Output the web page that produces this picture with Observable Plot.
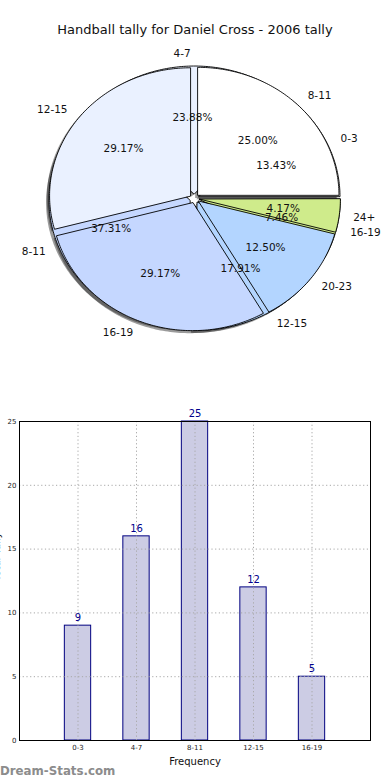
<!DOCTYPE html>
<html><head><meta charset="utf-8">
<script src="https://cdn.jsdelivr.net/npm/d3@7"></script>
<script src="https://cdn.jsdelivr.net/npm/@observablehq/plot@0.6"></script>
<style>
html,body{margin:0;padding:0;background:#fff;}
body{width:390px;height:780px;position:relative;overflow:hidden;font-family:"DejaVu Sans",sans-serif;}
#title{position:absolute;left:0;top:22px;width:390px;text-align:center;font-size:13px;line-height:16px;color:#111;}
#pie{position:absolute;left:0;top:0;}
#bar{position:absolute;left:0;top:400px;}
#wm{position:absolute;left:0;top:763px;font-size:11.8px;line-height:16px;color:#8c8c8c;font-weight:600;}
</style></head><body>
<div id="pie"></div>
<div id="title"></div>
<div id="bar"></div>
<div id="wm"></div>
<script>
// ---- data ----
const pieTitle = "Handball tally for Daniel Cross - 2006 tally";
const categoriesA = ["0-3", "4-7", "8-11", "12-15", "16-19"];
const tallyA = [9, 16, 25, 12, 5];
const categoriesB = ["8-11", "12-15", "16-19", "20-23", "24+"];
const tallyB = [6, 7, 7, 3, 1];
const sliceColors = ["#ffffff", "#eaf1ff", "#c5d7ff", "#b3d5ff", "#cfeb8b"];
const barXLabel = "Frequency";
const barYLabel = "Total Tally";
const yTicks = [0, 5, 10, 15, 20, 25];
const watermark = "Dream-Stats.com";

document.getElementById("title").textContent = pieTitle;
document.getElementById("wm").textContent = watermark;

// ---- pie geometry (unit circle, angles counter-clockwise from east) ----
const EXPLODE = 0.035;
function slices(cats, vals, tag) {
  const total = d3.sum(vals);
  let acc = 0;
  return cats.map((c, i) => {
    const a0 = acc / total * 360; acc += vals[i]; const a1 = acc / total * 360;
    const mid = (a0 + a1) / 2 * Math.PI / 180;
    return {key: tag + i, cat: c, value: vals[i], pct: vals[i] / total * 100, a0, a1, mid,
      ox: EXPLODE * Math.cos(mid), oy: EXPLODE * Math.sin(mid), color: sliceColors[i % sliceColors.length]};
  });
}
function wedgePoints(s, dx = 0, dy = 0, key = s.key) {
  const pts = [{key, x: s.ox + dx, y: s.oy + dy, color: s.color}];
  const n = Math.max(2, Math.ceil(s.a1 - s.a0));
  for (let k = 0; k <= n; k++) {
    const a = (s.a0 + (s.a1 - s.a0) * k / n) * Math.PI / 180;
    pts.push({key, x: s.ox + dx + Math.cos(a), y: s.oy + dy + Math.sin(a), color: s.color});
  }
  return pts;
}
const sA = slices(categoriesA, tallyA, "A");
const sB = slices(categoriesB, tallyB, "B");
const all = [...sA, ...sB];
const shadowPts = all.flatMap(s => wedgePoints(s, -0.02, -0.02, "s" + s.key));
const ptsA = sA.flatMap(s => wedgePoints(s));
const ptsB = sB.flatMap(s => wedgePoints(s));
const labels = all.map(s => ({text: s.cat, x: s.ox + 1.1 * Math.cos(s.mid), y: s.oy + 1.1 * Math.sin(s.mid)}));
const pcts = all.map(s => ({text: s.pct.toFixed(2) + "%", x: s.ox + 0.6 * Math.cos(s.mid), y: s.oy + 0.6 * Math.sin(s.mid)}));

const PH = 370, CX = 194, CY = 198, RX = 141, RY = 128;
const pie = Plot.plot({
  width: 390, height: PH, margin: 0,
  style: {fontFamily: "DejaVu Sans", fontSize: "10.5px", color: "#111", background: "transparent"},
  x: {domain: [-CX / RX, (390 - CX) / RX], range: [0, 390], axis: null},
  y: {domain: [-(PH - CY) / RY, CY / RY], range: [PH, 0], axis: null},
  color: {type: "identity"},
  marks: [
    Plot.line(shadowPts, {x: "x", y: "y", z: "key", fill: "#222", fillOpacity: 0.45, stroke: "none", curve: "linear-closed"}),
    Plot.line(ptsA, {x: "x", y: "y", z: "key", fill: "color", stroke: "#000", strokeWidth: 0.9, curve: "linear-closed"}),
    Plot.line(ptsB, {x: "x", y: "y", z: "key", fill: "color", stroke: "#000", strokeWidth: 0.9, curve: "linear-closed"}),
    Plot.text(labels.filter(d => d.x >= 0), {x: "x", y: "y", text: "text", textAnchor: "start", fill: "#111"}),
    Plot.text(labels.filter(d => d.x < 0), {x: "x", y: "y", text: "text", textAnchor: "end", fill: "#111"}),
    Plot.text(pcts, {x: "x", y: "y", text: "text", fill: "#111"})
  ]
});
document.getElementById("pie").appendChild(pie);

// ---- bar chart ----
const barData = categoriesA.map((c, i) => ({c, i, v: tallyA[i]}));
const tickIdx = categoriesA.map((c, i) => i);
const bar = Plot.plot({
  width: 390, height: 380, marginTop: 21, marginBottom: 40, marginLeft: 19, marginRight: 20,
  style: {fontFamily: "DejaVu Sans", fontSize: "7px", color: "#222", background: "transparent"},
  x: {domain: [-1, 5]},
  y: {domain: [0, 25]},
  marks: [
    Plot.rect(barData, {x1: d => d.i - 0.225, x2: d => d.i + 0.225, y1: 0, y2: "v", fill: "#ccccE4", stroke: "#000080", strokeWidth: 1}),
    Plot.gridX(tickIdx, {stroke: "#a8a8a8", strokeOpacity: 1, strokeDasharray: "1.2,2.5"}),
    Plot.gridY(yTicks, {stroke: "#a8a8a8", strokeOpacity: 1, strokeDasharray: "1.2,2.5"}),
    Plot.text(barData, {x: "i", y: "v", text: d => String(d.v), dy: -8, fill: "#00008b", fontSize: 10}),
    Plot.axisY(yTicks, {tickSize: 0, tickPadding: 3, label: null}),
    Plot.axisX(tickIdx, {tickFormat: i => categoriesA[i], tickSize: 0, tickPadding: 5, label: null}),
    Plot.text([barXLabel], {frameAnchor: "bottom", dy: 21, lineAnchor: "middle", fontSize: 10, fill: "#111"}),
    Plot.text([barYLabel], {frameAnchor: "left", dx: -22.5, rotate: -90, lineAnchor: "middle", fontSize: 10, fill: "#111"}),
    Plot.frame({stroke: "#000"})
  ]
});
document.getElementById("bar").appendChild(bar);
</script>
</body></html>
